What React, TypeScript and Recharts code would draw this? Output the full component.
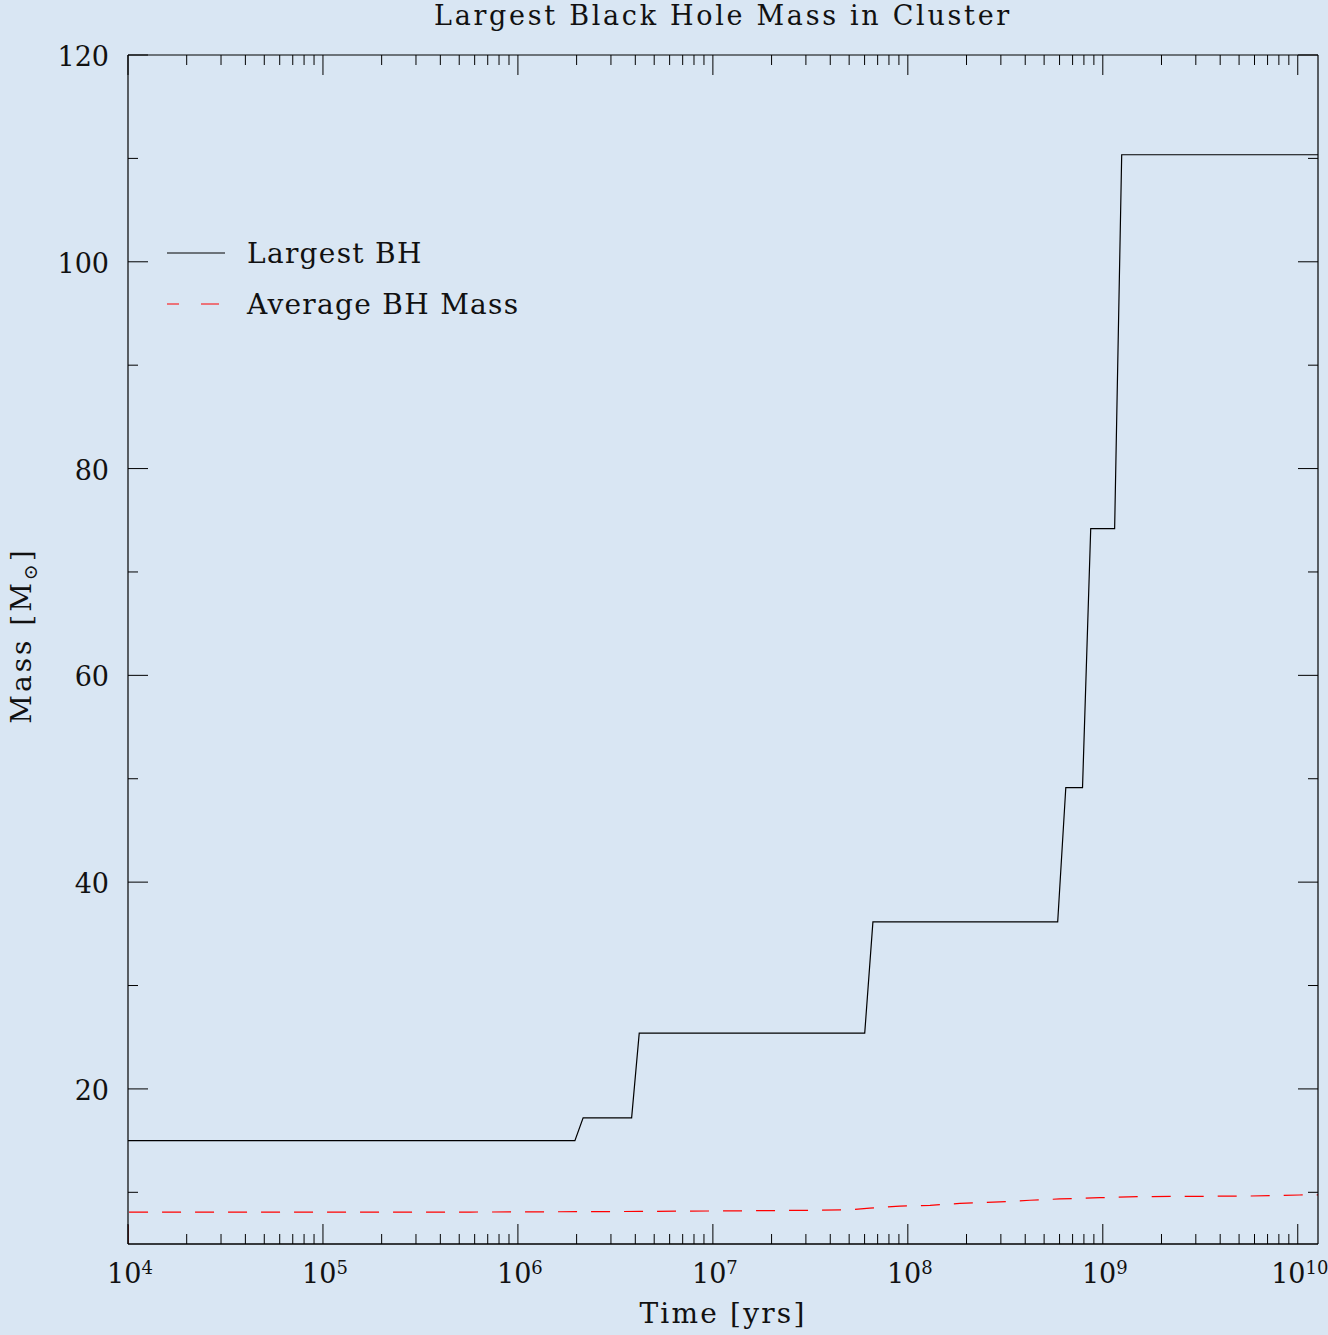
import React from 'react';
import { LineChart, Line, XAxis, YAxis } from 'recharts';

const FONT = '"DejaVu Serif", "Liberation Serif", serif';
const BG = '#d9e6f3';

// Largest BH mass (step curve)
const largestName = 'Largest BH';
const largestTimes = [1e4, 1.96e6, 2.16e6, 3.83e6, 4.19e6, 6.01e7, 6.62e7, 5.87e8, 6.46e8, 7.87e8, 8.67e8, 1.15e9, 1.25e9, 1.27e10];
const largestMasses = [15, 15, 17.2, 17.2, 25.4, 25.4, 36.15, 36.15, 49.15, 49.15, 74.2, 74.2, 110.35, 110.35];

// Average BH mass (dashed)
const avgName = 'Average BH Mass';
const avgTimes = [1e4, 1e4, 5.68e5, 1.64e6, 4.23e6, 1.15e7, 3.54e7, 5.05e7, 6.38e7, 9.1e7, 1.3e8, 1.85e8, 2.96e8, 4.23e8, 6.01e8, 9.66e8, 1.55e9, 5.68e9, 1.02e10, 1.27e10];
const avgMasses = [5.0, 8.09, 8.09, 8.12, 8.15, 8.2, 8.27, 8.32, 8.47, 8.67, 8.74, 8.92, 9.07, 9.23, 9.36, 9.48, 9.58, 9.64, 9.74, 9.76];

const xMajorTicks = [1e4, 1e5, 1e6, 1e7, 1e8, 1e9, 1e10];
const xMinorMult = [2, 3, 4, 5, 6, 7, 8, 9];
const yMajorTicks = [20, 40, 60, 80, 100, 120];
const yMinorTicks = [10, 30, 50, 70, 90, 110];

const X_DOMAIN = [1e4, 1.27e10];
const Y_DOMAIN = [5, 120];

const largestData = largestTimes.map((t, i) => ({ t, m: largestMasses[i] }));
const avgData = avgTimes.map((t, i) => ({ t, m: avgMasses[i] }));

const xMinorTicks: number[] = [];
xMajorTicks.slice(0, -1).forEach((d) => xMinorMult.forEach((k) => xMinorTicks.push(k * d)));
const xTicks = [...xMajorTicks, ...xMinorTicks].sort((a, b) => a - b);
const yTicks = [...yMajorTicks, ...yMinorTicks].sort((a, b) => a - b);

const isXMajor = (v: number) => xMajorTicks.includes(v);
const isYMajor = (v: number) => yMajorTicks.includes(v);

const BottomTick = ({ x, y, payload }: any) => {
  const v = payload.value;
  const major = isXMajor(v);
  const exp = Math.round(Math.log10(v));
  return (
    <g>
      <line x1={x} x2={x} y1={y} y2={y - (major ? 20 : 10)} stroke="#000" strokeWidth={1} />
      {major && (
        <text x={x + 2} y={y + 39} textAnchor="middle" fontFamily={FONT} fontSize={27} fill="#111">
          10<tspan dy={-9} fontSize={18}>{exp}</tspan>
        </text>
      )}
    </g>
  );
};

const TopTick = ({ x, y, payload }: any) => (
  <line x1={x} x2={x} y1={y} y2={y + (isXMajor(payload.value) ? 20 : 10)} stroke="#000" strokeWidth={1} />
);

const LeftTick = ({ x, y, payload }: any) => {
  const major = isYMajor(payload.value);
  return (
    <g>
      <line x1={x} x2={x + (major ? 20 : 10)} y1={y} y2={y} stroke="#000" strokeWidth={1} />
      {major && (
        <text x={x - 19} y={y + 11} textAnchor="end" fontFamily={FONT} fontSize={27} fill="#111">
          {payload.value}
        </text>
      )}
    </g>
  );
};

const RightTick = ({ x, y, payload }: any) => (
  <line x1={x} x2={x - (isYMajor(payload.value) ? 20 : 10)} y1={y} y2={y} stroke="#000" strokeWidth={1} />
);

const TitleLabel = ({ viewBox }: any) => (
  <text x={viewBox.x + viewBox.width / 2} y={25} textAnchor="middle" fontFamily={FONT} fontSize={27} fill="#111" letterSpacing={2.7}>
    Largest Black Hole Mass in Cluster
  </text>
);

const XTitle = ({ viewBox }: any) => (
  <text x={viewBox.x + viewBox.width / 2} y={viewBox.y + 79} textAnchor="middle" fontFamily={FONT} fontSize={28} fill="#111" letterSpacing={2.2}>
    Time [yrs]
  </text>
);

const YTitle = ({ viewBox }: any) => (
  <text transform={`translate(31, ${viewBox.y + viewBox.height / 2 - 14}) rotate(-90)`} x={0} y={0} textAnchor="middle" fontFamily={FONT} fontSize={28} fill="#111" letterSpacing={3}>
    Mass [M<tspan dy={6} fontSize={19}>⊙</tspan><tspan dy={-6}>]</tspan>
  </text>
);

const legendItems = [
  { name: largestName, color: '#000000', dash: undefined },
  { name: avgName, color: '#ff0000', dash: '12 22 18 100' },
];

const LegendBox = () => (
  <svg width={420} height={110} style={{ position: 'absolute', left: 160, top: 225 }}>
    {legendItems.map((e, i) => (
      <g key={i}>
        <line x1={7} x2={65} y1={28 + 51 * i} y2={28 + 51 * i} stroke={e.color} strokeWidth={1} strokeDasharray={e.dash} />
        <text x={87} y={38 + 51 * i} fontFamily={FONT} fontSize={28} fill="#111" letterSpacing={1.3}>
          {e.name}
        </text>
      </g>
    ))}
  </svg>
);

export default function App() {
  return (
    <div style={{ position: 'absolute', left: 0, top: 0, width: 1328, height: 1335, background: BG }}>
      <LineChart width={1328} height={1335} margin={{ top: 0, right: 0, bottom: 0, left: 0 }}>
        <XAxis xAxisId="bottom" dataKey="t" type="number" scale="log" domain={X_DOMAIN} allowDataOverflow
          ticks={xTicks} interval={0} tickSize={0} tickMargin={0} tick={<BottomTick />} height={91}
          axisLine={{ stroke: '#000', strokeWidth: 1.4 }} label={<XTitle />} />
        <XAxis xAxisId="top" orientation="top" dataKey="t" type="number" scale="log" domain={X_DOMAIN} allowDataOverflow
          ticks={xTicks} interval={0} tickSize={0} tickMargin={0} tick={<TopTick />} height={55}
          axisLine={{ stroke: '#000', strokeWidth: 1.2 }} label={<TitleLabel />} />
        <YAxis yAxisId="left" type="number" domain={Y_DOMAIN} allowDataOverflow ticks={yTicks} interval={0}
          tickSize={0} tickMargin={0} tick={<LeftTick />} width={128}
          axisLine={{ stroke: '#000', strokeWidth: 1.2 }} label={<YTitle />} />
        <YAxis yAxisId="right" orientation="right" type="number" domain={Y_DOMAIN} allowDataOverflow ticks={yTicks}
          interval={0} tickSize={0} tickMargin={0} tick={<RightTick />} width={10}
          axisLine={{ stroke: '#000', strokeWidth: 1.2 }} />
        <Line xAxisId="bottom" yAxisId="left" data={largestData} dataKey="m" name={largestName} type="linear"
          stroke="#000000" strokeWidth={1.2} dot={false} isAnimationActive={false} />
        <Line xAxisId="bottom" yAxisId="left" data={avgData} dataKey="m" name={avgName} type="linear"
          stroke="#ff0000" strokeWidth={1.2} strokeDasharray="19 14" dot={false} isAnimationActive={false} />
      </LineChart>
      <LegendBox />
    </div>
  );
}
